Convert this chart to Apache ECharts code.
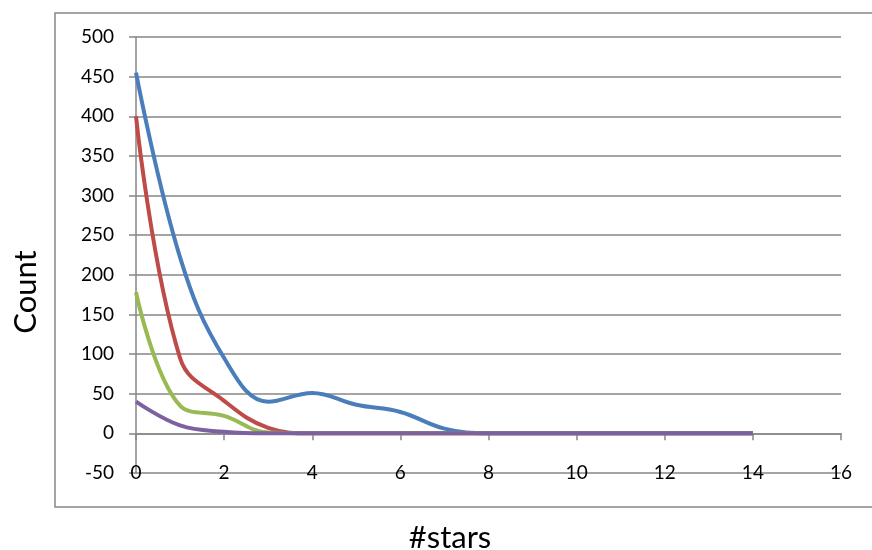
<!DOCTYPE html>
<html>
<head>
<meta charset="utf-8">
<script src="https://cdn.jsdelivr.net/npm/echarts@6/dist/echarts.min.js"></script>
<style>
html, body { margin: 0; padding: 0; background: #fff; }
#chart { width: 872px; height: 550px; }
</style>
</head>
<body>
<div id="chart"></div>
<script>
// #stars on the x axis, one count per series
var stars = [0, 1, 2, 3, 4, 5, 6, 7, 8, 9, 10, 11, 12, 13, 14];
var blueCounts = [455, 222, 95, 40, 51, 36, 27, 6, 0, 0, 0, 0, 0, 0, 0];
var redCounts = [400, 95, 41, 7, 0, 0, 0, 0, 0, 0, 0, 0, 0, 0, 0];
var greenCounts = [178, 35, 22, 1, 0, 0, 0, 0, 0, 0, 0, 0, 0, 0, 0];
var purpleCounts = [40, 10, 2, 0, 0, 0, 0, 0, 0, 0, 0, 0, 0, 0, 0];
var yTicks = [-50, 0, 50, 100, 150, 200, 250, 300, 350, 400, 450, 500];
var xTicks = [0, 2, 4, 6, 8, 10, 12, 14, 16];

var font = 'Lato, "Open Sans", sans-serif';
var gridGray = '#868686';

function pairs(values) {
    return stars.map(function (x, i) { return [x, values[i]]; });
}

function line(name, color, values) {
    return {
        name: name,
        type: 'line',
        data: pairs(values),
        smooth: 0.4,
        showSymbol: false,
        lineStyle: { color: color, width: 4 },
        itemStyle: { color: color }
    };
}

echarts.init(document.getElementById('chart')).setOption({
    animation: false,
    grid: {
        left: 136,
        right: 31,
        top: 37,
        bottom: 77
    },
    graphic: [
        {
            type: 'rect',
            shape: { x: 55, y: 13, width: 900, height: 494 },
            style: { fill: 'none', stroke: gridGray, lineWidth: 1.5 },
            silent: true
        },
        {
            type: 'text',
            x: 26,
            y: 292,
            rotation: Math.PI / 2,
            style: { text: 'Count', font: '31px ' + font, fill: '#000', align: 'center', verticalAlign: 'middle' }
        },
        {
            type: 'text',
            x: 450,
            y: 538,
            style: { text: '#stars', font: '31px ' + font, fill: '#000', align: 'center', verticalAlign: 'middle' }
        }
    ],
    xAxis: [
        {
            type: 'value',
            position: 'bottom',
            min: xTicks[0],
            max: xTicks[xTicks.length - 1],
            interval: 2,
            axisLine: { show: false, onZero: false },
            axisTick: { show: false },
            splitLine: { show: false },
            axisLabel: { margin: 0, verticalAlign: 'middle', color: '#000', fontFamily: font, fontSize: 19 }
        },
        {
            type: 'value',
            position: 'bottom',
            min: xTicks[0],
            max: xTicks[xTicks.length - 1],
            interval: 2,
            axisLine: { show: true, onZero: true, lineStyle: { color: gridGray, width: 1.5 } },
            axisTick: { show: true, length: 7, lineStyle: { color: gridGray, width: 1.5 } },
            splitLine: { show: false },
            axisLabel: { show: false }
        }
    ],
    yAxis: {
        type: 'value',
        min: yTicks[0],
        max: yTicks[yTicks.length - 1],
        interval: 50,
        axisLine: { show: true, onZero: false, lineStyle: { color: gridGray, width: 1.5 } },
        axisTick: { show: true, length: 7, lineStyle: { color: gridGray, width: 1.5 } },
        splitLine: { show: true, lineStyle: { color: gridGray, width: 1.5 } },
        axisLabel: { margin: 22, color: '#000', fontFamily: font, fontSize: 19 }
    },
    series: [
        line('blue', '#4a7ebb', blueCounts),
        line('red', '#be4b48', redCounts),
        line('green', '#98b954', greenCounts),
        line('purple', '#7d60a0', purpleCounts)
    ]
});
</script>
</body>
</html>
